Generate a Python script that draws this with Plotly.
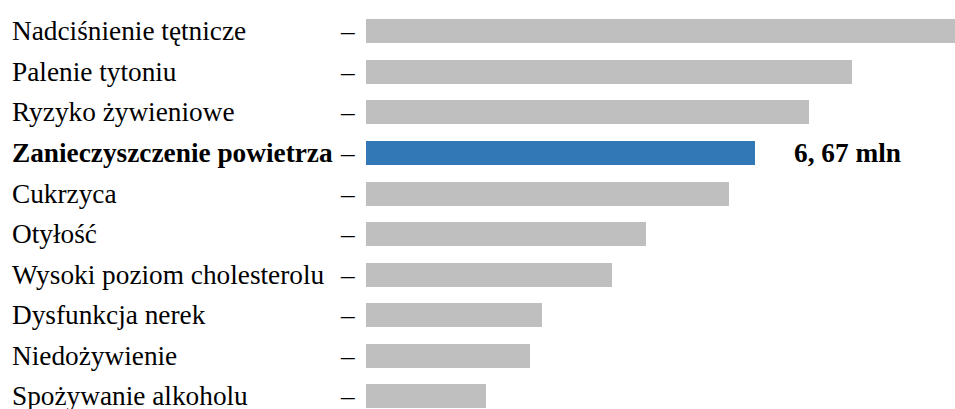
import plotly.graph_objects as go

# Risk factors and attributed deaths (millions)
categories = [
    "Nadciśnienie tętnicze",
    "Palenie tytoniu",
    "Ryzyko żywieniowe",
    "Zanieczyszczenie powietrza",
    "Cukrzyca",
    "Otyłość",
    "Wysoki poziom cholesterolu",
    "Dysfunkcja nerek",
    "Niedożywienie",
    "Spożywanie alkoholu",
]
deaths_mln = [10.13, 8.34, 7.60, 6.67, 6.22, 4.80, 4.21, 3.02, 2.81, 2.05]
highlight = "Zanieczyszczenie powietrza"

FONT = "'Times New Roman', 'Liberation Serif', Tinos, 'DejaVu Serif', serif"
GRAY = "#BFBFBF"
BLUE = "#3277B6"
SIZE = 27.3

positions = list(range(len(categories)))
colors = [BLUE if c == highlight else GRAY for c in categories]

fig = go.Figure(
    go.Bar(
        x=deaths_mln,
        y=positions,
        orientation="h",
        marker=dict(color=colors, line=dict(width=0)),
        width=0.59,
        hoverinfo="skip",
    )
)

annotations = []
for i, (cat, val) in enumerate(zip(categories, deaths_mln)):
    bold = cat == highlight
    annotations.append(dict(
        text=f"<b>{cat}</b>" if bold else cat,
        x=0, xref="paper", xanchor="left", xshift=-355,
        y=i, yref="y", yanchor="middle", borderpad=0,
        showarrow=False,
        font=dict(family=FONT, size=SIZE, color="black"),
    ))
    annotations.append(dict(
        text="–",
        x=0, xref="paper", xanchor="left", xshift=-27,
        y=i, yref="y", yanchor="middle", borderpad=0,
        showarrow=False,
        font=dict(family=FONT, size=SIZE, color="black"),
    ))
    if bold:
        annotations.append(dict(
            text="<b>" + f"{val:.2f}".replace(".", ", ") + " mln</b>",
            x=val, xref="x", xanchor="left", xshift=38,
            y=i, yref="y", yanchor="middle", borderpad=0,
            showarrow=False,
            font=dict(family=FONT, size=SIZE, color="black"),
        ))

fig.update_layout(
    width=955,
    height=409,
    margin=dict(l=366, r=0, t=0, b=0),
    paper_bgcolor="white",
    plot_bgcolor="white",
    showlegend=False,
    bargap=0,
    font=dict(family=FONT),
    xaxis=dict(range=[0, 10.1], visible=False, fixedrange=True),
    yaxis=dict(range=[9.31, -0.77], visible=False, fixedrange=True),
    annotations=annotations,
)

fig.write_html("out.html")
